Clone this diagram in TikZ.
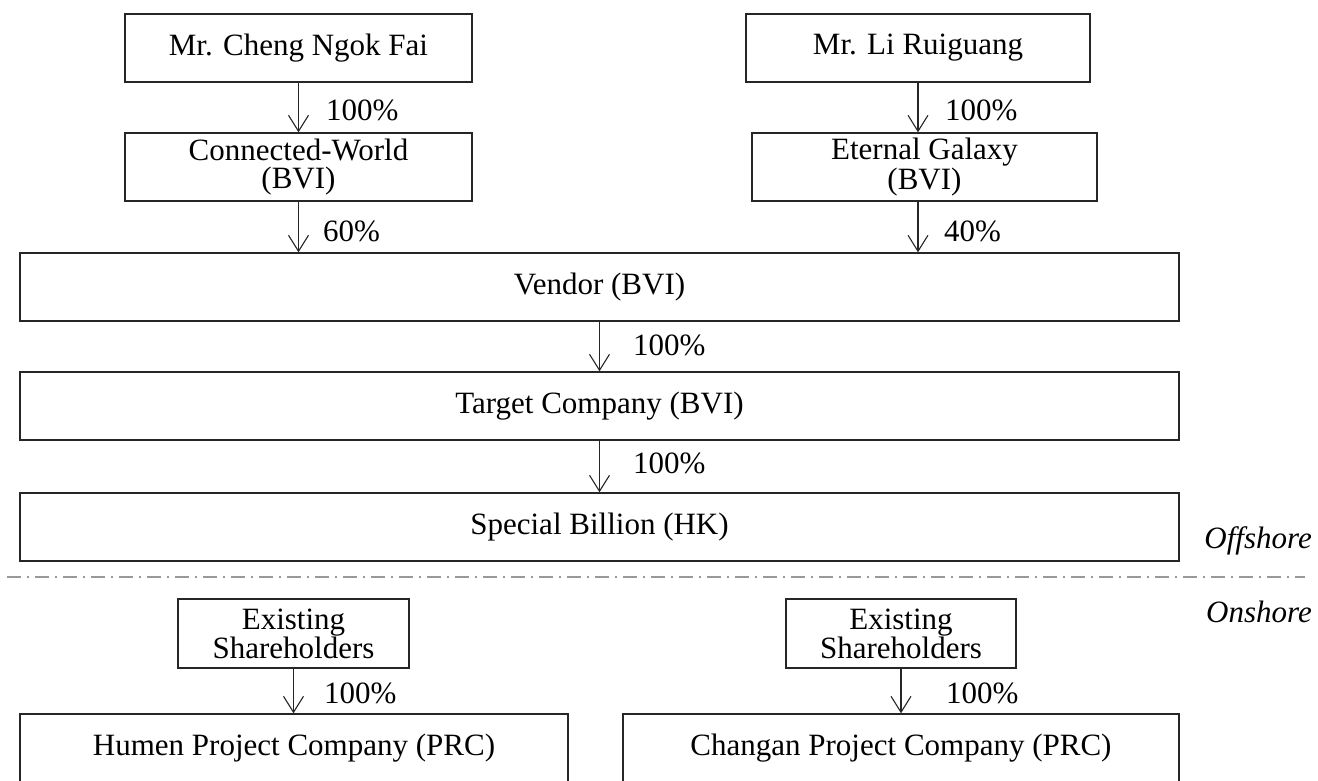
\documentclass[tikz,border=0pt]{standalone}
\usepackage{fontspec}
\setmainfont{Liberation Serif}
\usetikzlibrary{arrows.meta}
\tikzset{
  box/.style={draw=black!85, line width=1.4pt, rectangle, inner sep=0pt, align=center,
              font=\fontsize{31}{28}\selectfont},
  arr/.style={draw=black!85, line width=1.1pt, -{Straight Barb[length=16pt,width=20pt]}},
  pct/.style={anchor=west, inner sep=0pt, font=\fontsize{31}{28}\selectfont},
  side/.style={anchor=east, inner sep=0pt, font=\fontsize{31}{28}\selectfont\itshape},
  divider/.style={draw=black!40, line width=2pt, dash pattern=on 14pt off 6pt on 2pt off 6pt}
}
\begin{document}
\begin{tikzpicture}[x=1pt,y=-1pt]
\useasboundingbox (0,0) rectangle (1318,780);
% top owners
\node[box, minimum width=347pt, minimum height=68pt] (cheng) at (298.5,48) {Mr. Cheng Ngok Fai};
\node[box, minimum width=344pt, minimum height=68pt] (li) at (918,48) {Mr. Li Ruiguang};
\node[box, minimum width=347pt, minimum height=68pt] (cw) at (298.5,167) {Connected-World\\(BVI)};
\node[box, minimum width=345pt, minimum height=68pt] (eg) at (924.5,167) {Eternal Galaxy\\(BVI)};
\node[box, minimum width=1159pt, minimum height=68pt] (vendor) at (599.5,287) {Vendor (BVI)};
\node[box, minimum width=1159pt, minimum height=68pt] (target) at (599.5,406) {Target Company (BVI)};
\node[box, minimum width=1159pt, minimum height=68pt] (special) at (599.5,527) {Special Billion (HK)};
% onshore
\node[box, minimum width=231pt, minimum height=69pt] (es1) at (293.5,633.5) {Existing\\Shareholders};
\node[box, minimum width=230pt, minimum height=69pt] (es2) at (901,633.5) {Existing\\Shareholders};
\node[box, minimum width=548pt, minimum height=68pt] (humen) at (294,748) {Humen Project Company (PRC)};
\node[box, minimum width=556pt, minimum height=68pt] (changan) at (901,748) {Changan Project Company (PRC)};
% connectors
\draw[arr] (cheng.south) -- (cw.north);
\draw[arr] (li.south) -- (li.south |- eg.north);
\draw[arr] (cw.south) -- (cw.south |- vendor.north);
\draw[arr] (eg.south -| li.south) -- (li.south |- vendor.north);
\draw[arr] (vendor.south) -- (target.north);
\draw[arr] (target.south) -- (special.north);
\draw[arr] (es1.south) -- (es1.south |- humen.north);
\draw[arr] (es2.south) -- (changan.north);
% labels
\node[pct] (p1) at (326,110) {100\%};
\node[pct] (p2) at (945,110) {100\%};
\node[pct] (p3) at (323,231) {60\%};
\node[pct] (p4) at (944,231) {40\%};
\node[pct] (p5) at (633,345) {100\%};
\node[pct] (p6) at (633,463) {100\%};
\node[pct] (p7) at (324,693) {100\%};
\node[pct] (p8) at (946,693) {100\%};
% divider
\coordinate (dl) at (7,577);
\coordinate (dr) at (1305,577);
\draw[divider] (dl) -- (dr);
\node[side] (off) at (1312,541) {Offshore};
\node[side] (on) at (1312,612) {Onshore};
\end{tikzpicture}
\end{document}
